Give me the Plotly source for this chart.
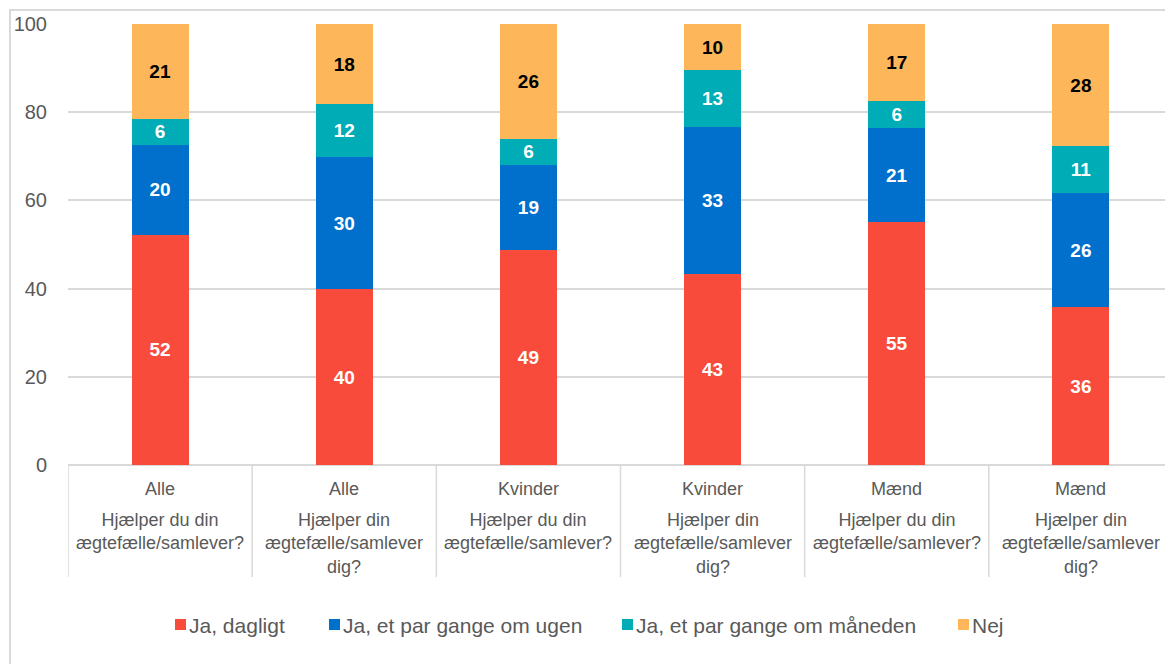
import plotly.graph_objects as go

groups = ["Alle", "Alle", "Kvinder", "Kvinder", "Mænd", "Mænd"]
questions = [
    "Hjælper du din<br>ægtefælle/samlever?",
    "Hjælper din<br>ægtefælle/samlever<br>dig?",
    "Hjælper du din<br>ægtefælle/samlever?",
    "Hjælper din<br>ægtefælle/samlever<br>dig?",
    "Hjælper du din<br>ægtefælle/samlever?",
    "Hjælper din<br>ægtefælle/samlever<br>dig?",
]
series_names = ["Ja, dagligt", "Ja, et par gange om ugen", "Ja, et par gange om måneden", "Nej"]
dagligt = [52.2, 39.9, 48.8, 43.4, 55.1, 35.8]
ugen = [20.4, 29.9, 19.3, 33.2, 21.3, 25.9]
maaneden = [5.9, 12.0, 5.9, 12.9, 6.2, 10.6]
nej = [21.4, 18.2, 26.0, 10.4, 17.4, 27.7]
y_ticks = [0, 20, 40, 60, 80, 100]

colors = ["#F84B3C", "#0070CC", "#00ACB5", "#FDB75A"]
text_colors = ["white", "white", "white", "black"]
series = [dagligt, ugen, maaneden, nej]

x = list(range(len(groups)))
FONT = "Liberation Sans, Arial, sans-serif"
GRAY = "#595959"

fig = go.Figure()
for name, vals, c, tc in zip(series_names, series, colors, text_colors):
    fig.add_trace(go.Bar(
        x=x, y=vals, name=name, marker=dict(color=c, line=dict(width=0)),
        width=0.31, texttemplate="%{y:.0f}", textposition="inside", textangle=0,
        insidetextanchor="middle", constraintext="none",
        textfont=dict(color=tc, size=19, family=FONT, weight="bold"),
        showlegend=False, hoverinfo="skip",
    ))

# plot geometry in px
L, T, B0 = 68, 24, 465
H = B0 - T
W = 1165 - L

def py(p):
    return (B0 - p) / H

def px(p):
    return (p - L) / W

shapes = []
# outer border
shapes.append(dict(type="rect", xref="paper", yref="paper",
                   x0=px(10), x1=px(1200), y0=py(10), y1=py(700),
                   line=dict(color="#D9D9D9", width=2), fillcolor="rgba(0,0,0,0)", layer="below"))
# category dividers
for i in range(len(groups) + 1):
    shapes.append(dict(type="line", xref="x", yref="paper", x0=i - 0.5, x1=i - 0.5,
                       y0=0, y1=py(577), line=dict(color="#D9D9D9", width=1.5)))

annotations = []
for i, (g, q) in enumerate(zip(groups, questions)):
    annotations.append(dict(x=i, y=py(477), xref="x", yref="paper", text=g, showarrow=False,
                            yanchor="top", xanchor="center",
                            font=dict(size=18, color=GRAY, family=FONT)))
    annotations.append(dict(x=i, y=py(508), xref="x", yref="paper", text=q, showarrow=False,
                            yanchor="top", xanchor="center",
                            font=dict(size=18, color=GRAY, family=FONT)))

# legend built from series names
legend_left = [175, 329, 622, 958]
for name, c, lx in zip(series_names, colors, legend_left):
    shapes.append(dict(type="rect", xref="paper", yref="paper",
                       x0=px(lx), x1=px(lx + 11), y0=py(619), y1=py(630),
                       fillcolor=c, line=dict(width=0)))
    annotations.append(dict(x=px(lx + 12), y=py(625), xref="paper", yref="paper", text=name,
                            showarrow=False, xanchor="left", yanchor="middle",
                            font=dict(size=21, color=GRAY, family=FONT)))

fig.update_layout(
    width=1165, height=664,
    barmode="stack",
    margin=dict(l=L, r=0, t=T, b=664 - B0, autoexpand=False),
    plot_bgcolor="white", paper_bgcolor="white",
    font=dict(family=FONT, color=GRAY),
    xaxis=dict(range=[-0.5, 5.5 - 8 / 184], showticklabels=False, showgrid=False,
               zeroline=False, showline=False, fixedrange=True),
    yaxis=dict(range=[0, 100], tickvals=y_ticks, showgrid=True, gridcolor="#D9D9D9",
               gridwidth=1.5, zeroline=True, zerolinecolor="#D9D9D9", zerolinewidth=1.5,
               ticks="outside", ticklen=16, tickcolor="rgba(0,0,0,0)",
               tickfont=dict(size=20, color=GRAY, family=FONT), fixedrange=True),
    shapes=shapes,
    annotations=annotations,
    showlegend=False,
)

fig.write_html("out.html", config={"displayModeBar": False},
               post_script="document.body.style.margin='0';")
